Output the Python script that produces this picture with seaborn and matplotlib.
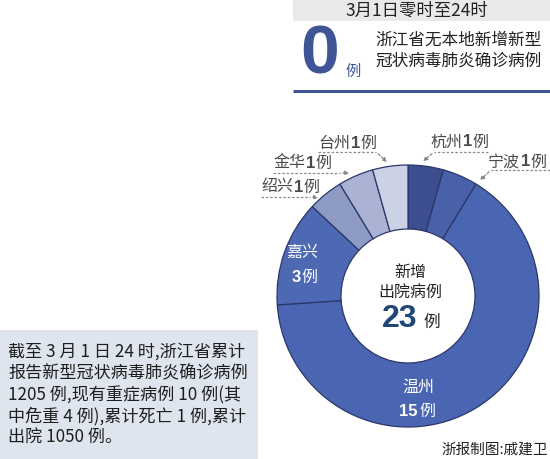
import matplotlib
matplotlib.use("Agg")
import matplotlib.pyplot as plt
import seaborn as sns
from matplotlib.patches import Rectangle

# data
cities = ["杭州", "宁波", "温州", "嘉兴", "绍兴", "金华", "台州"]
cases = [1, 1, 15, 3, 1, 1, 1]
colors = ["#3c4d90", "#4961a8", "#4a66b2", "#4d69b4", "#8e9bc5", "#aab3d3", "#ccd2e6"]
total_new = 23
header_date = "3月1日零时至24时"
header_lines = ["浙江省无本地新增新型", "冠状病毒肺炎确诊病例"]
summary_lines = [
    "截至 3 月 1 日 24 时,浙江省累计",
    "报告新型冠状病毒肺炎确诊病例",
    "1205 例,现有重症病例 10 例(其",
    "中危重 4 例),累计死亡 1 例,累计",
    "出院 1050 例。",
]
credit = "浙报制图:戚建卫"

sns.set_theme(style="white")
FONT = ["Noto Sans CJK SC", "DejaVu Sans"]
LATIN = ["Liberation Sans", "DejaVu Sans"]
plt.rcParams["font.family"] = FONT

W, H = 550, 459
fig = plt.figure(figsize=(5.5, 4.59), dpi=100)
ax = fig.add_axes([0, 0, 1, 1])


def Y(y):
    return H - y


blue = "#3f5596"

# donut
cx, cy, R, r_in = 408, Y(296), 131, 67
ax.pie(cases, colors=colors, startangle=90, counterclock=False,
       center=(cx, cy), radius=R, frame=True,
       wedgeprops=dict(width=R - r_in, edgecolor="#2b3768", linewidth=0.9))
ax.set_xlim(0, W)
ax.set_ylim(0, H)
ax.set_aspect("equal")
ax.axis("off")

# header block
ax.add_patch(Rectangle((293, Y(21)), W - 293, 21, color="#e9e9e9", lw=0))
ax.text(417, Y(11), header_date, fontsize=12.5, color="#222222", ha="center", va="center")
ax.text(320, Y(56), "0", fontsize=50, fontweight="bold", color=blue, ha="center",
        va="center", family=LATIN)
ax.text(353, Y(71), "例", fontsize=11, color=blue, ha="center", va="center")
ax.text(375, Y(40), header_lines[0], fontsize=12, color="#222222", ha="left", va="center")
ax.text(375, Y(61), header_lines[1], fontsize=12, color="#222222", ha="left", va="center")
ax.plot([293, W], [Y(91), Y(91)], color=blue, lw=2.2, solid_capstyle="butt")

# center text
ax.text(410, Y(272), "新增", fontsize=11.5, color="#222222", ha="center", va="center")
ax.text(410, Y(293), "出院病例", fontsize=11.5, color="#222222", ha="center", va="center")
ax.text(400, Y(319), str(total_new), fontsize=23, fontweight="bold", color="#1f4677",
        ha="center", va="center", family=LATIN)
ax.text(432, Y(322), "例", fontsize=12, color="#222222", ha="center", va="center")

# inner labels
ax.text(302, Y(252), cities[3], fontsize=11.5, color="white", ha="center", va="center")
ax.text(296, Y(277), str(cases[3]), fontsize=12, color="white", ha="center", va="center",
        fontweight="bold", family=LATIN)
ax.text(309, Y(277), "例", fontsize=11.5, color="white", ha="center", va="center")
ax.text(418, Y(387), cities[2], fontsize=11.5, color="white", ha="center", va="center")
ax.text(408, Y(411), str(cases[2]), fontsize=12, color="white", ha="center", va="center",
        fontweight="bold", family=LATIN)
ax.text(427, Y(411), "例", fontsize=11.5, color="white", ha="center", va="center")

# outer labels with dashed leaders
lab_col = "#4a4a4a"
dash_col = "#8a8a8a"


def outer_label(x, y, city, n):
    ax.text(x, Y(y), city, fontsize=11.5, color=lab_col, ha="left", va="center")
    ax.text(x + 33, Y(y), str(n), fontsize=12, fontweight="bold", color=lab_col,
            ha="left", va="center", family=LATIN)
    ax.text(x + 42, Y(y), "例", fontsize=11.5, color=lab_col, ha="left", va="center")


def leader(pts):
    xs = [p[0] for p in pts]
    ys = [Y(p[1]) for p in pts]
    ax.plot(xs[:-1], ys[:-1], color=dash_col, lw=0.9, ls=(0, (2, 1.5)))
    ax.annotate("", xy=(xs[-1], ys[-1]), xytext=(xs[-2], ys[-2]),
                arrowprops=dict(arrowstyle="-|>", color=dash_col, lw=0.9,
                                ls=(0, (2, 1.5)), mutation_scale=6))


outer_label(318, 143, cities[6], cases[6])
leader([(318, 152), (376, 152), (389, 164)])
outer_label(273, 163, cities[5], cases[5])
leader([(273, 173), (340, 173), (352, 173)])
outer_label(261, 187, cities[4], cases[4])
leader([(261, 197), (310, 197), (321, 198)])
outer_label(430, 142, cities[0], cases[0])
leader([(488, 152), (434, 152), (421, 163)])
outer_label(488, 162, cities[1], cases[1])
leader([(W, 170), (491, 170), (478, 182)])

# summary box
ax.add_patch(Rectangle((0, 0), 258, H - 330, color="#dfe5ee", lw=0))
for i, line in enumerate(summary_lines):
    ax.text(8, Y(352 + i * 21.5), line, fontsize=12.3, color="#1e1e1e", ha="left", va="center")

ax.text(548, Y(450), credit, fontsize=10.5, color="#222222", ha="right", va="center")

fig.savefig("out.png", dpi=100)
